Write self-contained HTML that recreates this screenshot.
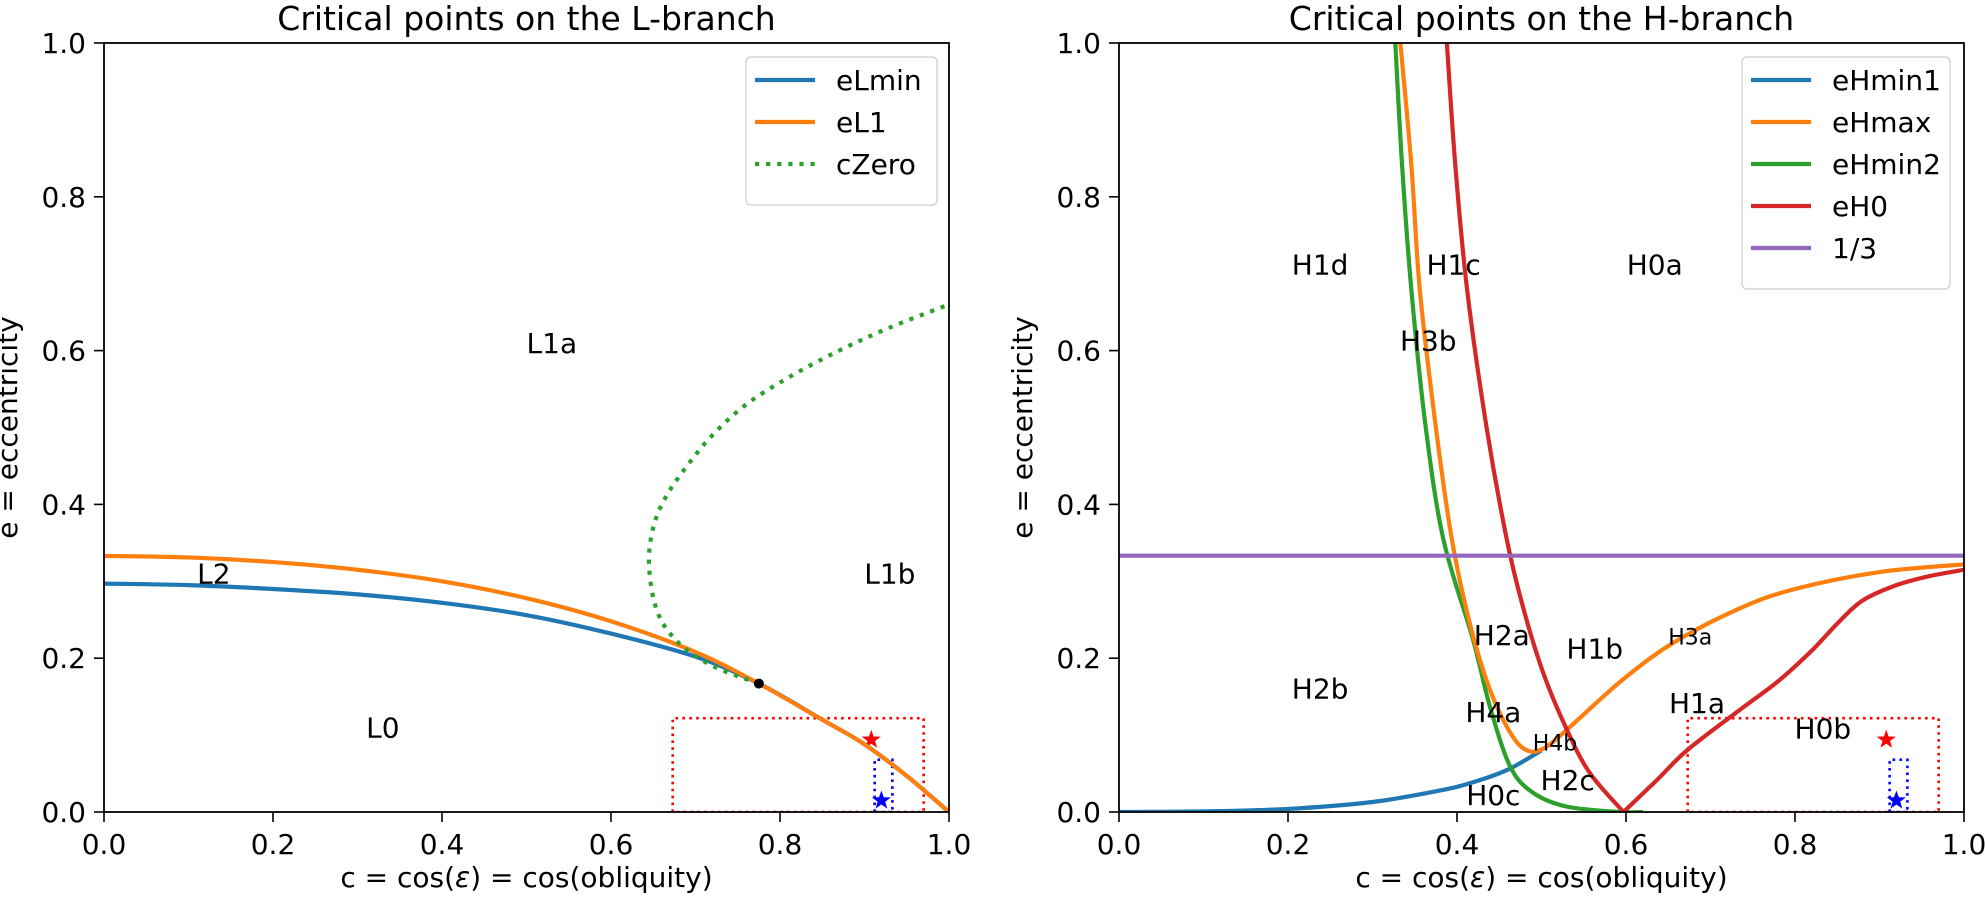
<!DOCTYPE html>
<html><head><meta charset="utf-8"><style>
html,body{margin:0;padding:0;background:#fff;}
svg{display:block;font-family:"DejaVu Sans","Liberation Sans",sans-serif;}
</style></head><body>
<svg id="chart" width="1985" height="902" viewBox="0 0 1985 902" xmlns="http://www.w3.org/2000/svg"></svg>
<script>
// ---------- data ----------
const xTicks=[0,0.2,0.4,0.6,0.8,1.0];
const yTicks=[0,0.2,0.4,0.6,0.8,1.0];
const tickLabels=["0.0","0.2","0.4","0.6","0.8","1.0"];
// Left panel
const eLminC=[0,0.1,0.2,0.3,0.4,0.5,0.6,0.7,0.775,0.85,0.9,0.95,1.0];
const eLminE=[0.297,0.295,0.290,0.283,0.272,0.256,0.232,0.202,0.167,0.12,0.088,0.047,0];
const eL1C=[0,0.1,0.2,0.3,0.4,0.5,0.6,0.7,0.775,0.85,0.9,0.95,1.0];
const eL1E=[0.333,0.331,0.325,0.315,0.300,0.278,0.248,0.208,0.167,0.12,0.088,0.047,0];
const cZeroC=[0.775,0.72,0.68,0.655,0.645,0.65,0.665,0.69,0.72,0.76,0.81,0.87,0.93,1.0];
const cZeroE=[0.167,0.19,0.22,0.26,0.32,0.37,0.41,0.45,0.49,0.53,0.565,0.6,0.63,0.66];
const dotPoint=[0.775,0.167];
// Right panel
const eHmin1C=[0,0.1,0.2,0.3,0.38,0.42,0.46,0.5];
const eHmin1E=[0,0.0008,0.004,0.013,0.028,0.039,0.055,0.080];
const eHmaxC=[0.333,0.346,0.356,0.375,0.394,0.415,0.439,0.466,0.486,0.506,0.534,0.596,0.656,0.735,0.8,0.9,1.0];
const eHmaxE=[1.0,0.841,0.679,0.5,0.354,0.246,0.159,0.098,0.079,0.085,0.111,0.172,0.220,0.265,0.29,0.312,0.322];
const eHmin2C=[0.327,0.335,0.346,0.363,0.384,0.419,0.439,0.463,0.490,0.530,0.593,0.62];
const eHmin2E=[1.0,0.841,0.679,0.5,0.354,0.224,0.137,0.059,0.025,0.007,0,0];
const eH0C=[0.388,0.398,0.412,0.435,0.459,0.478,0.502,0.530,0.557,0.597,0.637,0.673,0.735,0.78,0.82,0.85,0.88,0.92,0.96,1.0];
const eH0E=[1.0,0.841,0.679,0.5,0.354,0.267,0.181,0.107,0.051,0,0.042,0.081,0.133,0.17,0.21,0.245,0.275,0.295,0.307,0.315];
const thirdLine=0.3333;
// shared markers
const redRect=[0.673,0.970,0,0.122];
const blueRect=[0.912,0.933,0,0.068];
const redStar=[0.908,0.094];
const blueStar=[0.920,0.015];
const leftLabels=["L1a","L2","L1b","L0"];
const leftLabelC=[0.53,0.13,0.93,0.33];
const leftLabelE=[0.61,0.31,0.31,0.11];
const rightLabels=["H1d","H1c","H0a","H3b","H2a","H1b","H3a","H4a","H4b","H2c","H0c","H1a","H2b","H0b"];
const rightLabelC=[0.238,0.396,0.634,0.366,0.453,0.563,0.676,0.443,0.516,0.531,0.443,0.684,0.238,0.833];
const rightLabelE=[0.712,0.712,0.712,0.613,0.230,0.213,0.228,0.130,0.090,0.042,0.022,0.142,0.161,0.109];
const rightLabelSmall=[false,false,false,false,false,false,true,false,true,false,false,false,false,false];

// ---------- drawing ----------
const NS="http://www.w3.org/2000/svg";
const svg=document.getElementById('chart');
function mk(tag,attrs,parent){const e=document.createElementNS(NS,tag);for(const k in attrs)e.setAttribute(k,attrs[k]);(parent||svg).appendChild(e);return e;}
const T=43,B=812;
function axes(x0){
  const x1=x0+845;
  return {x:v=>x0+v*(x1-x0), y:v=>B-v*(B-T), x0:x0, x1:x1};
}
function pathD(ax,cs,es){
  const p=cs.map((c,i)=>[ax.x(c),ax.y(es[i])]);
  let d="M"+p[0][0].toFixed(2)+","+p[0][1].toFixed(2);
  for(let i=0;i<p.length-1;i++){
    const p0=p[i-1]||p[i],p1=p[i],p2=p[i+1],p3=p[i+2]||p2;
    const t=1/6;
    const c1=[p1[0]+(p2[0]-p0[0])*t,p1[1]+(p2[1]-p0[1])*t];
    const c2=[p2[0]-(p3[0]-p1[0])*t,p2[1]-(p3[1]-p1[1])*t];
    d+=" C"+c1[0].toFixed(2)+","+c1[1].toFixed(2)+" "+c2[0].toFixed(2)+","+c2[1].toFixed(2)+" "+p2[0].toFixed(2)+","+p2[1].toFixed(2);
  }
  return d;
}
function starPts(cx,cy,R){
  const r=R*0.4;let s=[];
  for(let i=0;i<10;i++){const a=-Math.PI/2+i*Math.PI/5;const rr=i%2?r:R;s.push((cx+rr*Math.cos(a)).toFixed(1)+","+(cy+rr*Math.sin(a)).toFixed(1));}
  return s.join(" ");
}
function frame(ax,g,title,ylabelX){
  xTicks.forEach((v,i)=>{
    const x=ax.x(v);
    const t=mk('line',{x1:x,y1:B,x2:x,y2:B+10,stroke:'#000','stroke-width':1.6},g);
    
    const l=mk('text',{x:x,y:854,'font-size':28,'text-anchor':'middle',fill:'#000'},g);
    l.textContent=tickLabels[i];
    
  });
  yTicks.forEach((v,i)=>{
    const y=ax.y(v);
    const t=mk('line',{x1:ax.x0-10,y1:y,x2:ax.x0,y2:y,stroke:'#000','stroke-width':1.6},g);
    
    const l=mk('text',{x:ax.x0-18,y:y+10,'font-size':28,'text-anchor':'end',fill:'#000'},g);
    l.textContent=tickLabels[i];
    
  });
  const tt=mk('text',{x:(ax.x0+ax.x1)/2,y:30,'font-size':33,'text-anchor':'middle',fill:'#000'},g);
  tt.textContent=title;
  
  const xl=mk('text',{x:(ax.x0+ax.x1)/2,y:887,'font-size':28,'text-anchor':'middle',fill:'#000'},g);
  xl.innerHTML='c = cos(<tspan font-style="italic">ε</tspan>) = cos(obliquity)';
  
  const yl=mk('text',{x:0,y:0,'font-size':28,'text-anchor':'middle',fill:'#000',transform:`translate(${ylabelX},${(T+B)/2}) rotate(-90)`},g);
  yl.textContent='e = eccentricity';
  
}
function spines(ax,g){
  const r=mk('rect',{x:ax.x0,y:T,width:845,height:B-T,fill:'none',stroke:'#000','stroke-width':1.8},g);
  
}
function series(ax,g,cs,es,color,name,dash,split){
  let d;
  if(split){
    let k=0;es.forEach((v,i)=>{if(v<es[k])k=i;});
    d=pathD(ax,cs.slice(0,k+1),es.slice(0,k+1))+" "+pathD(ax,cs.slice(k),es.slice(k));
  } else d=pathD(ax,cs,es);
  const a={d:d,fill:'none',stroke:color,'stroke-width':4.2,'stroke-linejoin':'round'};
  if(dash){a['stroke-dasharray']=dash;}
  const p=mk('path',a,g);
  
}
function markers(ax,g){
  const rr=mk('path',{d:`M${ax.x(redRect[0])},${ax.y(redRect[2])} L${ax.x(redRect[0])},${ax.y(redRect[3])} L${ax.x(redRect[1])},${ax.y(redRect[3])} L${ax.x(redRect[1])},${ax.y(redRect[2])} Z`,fill:'none',stroke:'#ff0000','stroke-width':2.6,'stroke-dasharray':'2.6 4.3'},g);
  
  const br=mk('path',{d:`M${ax.x(blueRect[0])},${ax.y(blueRect[2])} L${ax.x(blueRect[0])},${ax.y(blueRect[3])} L${ax.x(blueRect[1])},${ax.y(blueRect[3])} L${ax.x(blueRect[1])},${ax.y(blueRect[2])} Z`,fill:'none',stroke:'#0000ff','stroke-width':2.6,'stroke-dasharray':'2.6 4.3'},g);
  
  const rs=mk('polygon',{points:starPts(ax.x(redStar[0]),ax.y(redStar[1]),10),fill:'#ff0000'},g);
  
  const bs=mk('polygon',{points:starPts(ax.x(blueStar[0]),ax.y(blueStar[1]),10),fill:'#0000ff'},g);
  
}
function labels(ax,g,names,cs,es,small){
  names.forEach((n,i)=>{
    const fs=(small&&small[i])?22:28;
    const t=mk('text',{x:ax.x(cs[i]),y:ax.y(es[i])+fs*0.36,'font-size':fs,'text-anchor':'middle',fill:'#000'},g);
    t.textContent=n;
    
  });
}
function legend(g,x,y,w,entries){
  const h=entries.length*42+22;
  const r=mk('rect',{x:x,y:y,width:w,height:h,rx:5,fill:'#fff','fill-opacity':0.8,stroke:'#d5d5d5','stroke-width':1.5},g);
  
  entries.forEach((e,i)=>{
    const cy=y+23+i*42;
    const a={x1:x+9,y1:cy,x2:x+69,y2:cy,stroke:e[1],'stroke-width':4.2};
    if(e[2])a['stroke-dasharray']=e[2];
    const l=mk('line',a,g);
    
    const t=mk('text',{x:x+90,y:cy+10,'font-size':28,fill:'#000'},g);
    t.textContent=e[0];
    
  });
}
// Left panel
const axL=axes(104);
const gL=mk('g',{});
const clipL=mk('clipPath',{id:'clipL'});mk('rect',{x:104,y:T,width:845,height:B-T},clipL);
const gLp=mk('g',{'clip-path':'url(#clipL)'},gL);
markers(axL,gLp);
series(axL,gLp,eLminC,eLminE,'#1f77b4','eLmin-line');
series(axL,gLp,eL1C,eL1E,'#ff7f0e','eL1-line');
series(axL,gLp,cZeroC,cZeroE,'#2ca02c','cZero-line','4.2 6.9');
const dot=mk('circle',{cx:axL.x(dotPoint[0]),cy:axL.y(dotPoint[1]),r:5,fill:'#000'},gLp);

labels(axL,gLp,leftLabels,leftLabelC,leftLabelE);
spines(axL,gL);
frame(axL,gL,'Critical points on the L-branch',17);
legend(gL,746,57,191,[['eLmin','#1f77b4'],['eL1','#ff7f0e'],['cZero','#2ca02c','4.2 6.9']]);
// Right panel
const axR=axes(1119);
const gR=mk('g',{});
const clipR=mk('clipPath',{id:'clipR'});mk('rect',{x:1119,y:T,width:845,height:B-T},clipR);
const gRp=mk('g',{'clip-path':'url(#clipR)'},gR);
markers(axR,gRp);
series(axR,gRp,eHmin1C,eHmin1E,'#1f77b4','eHmin1-line');
series(axR,gRp,eHmin2C,eHmin2E,'#2ca02c','eHmin2-line');
series(axR,gRp,eHmaxC,eHmaxE,'#ff7f0e','eHmax-line');
series(axR,gRp,eH0C,eH0E,'#d62728','eH0-line',null,true);
const third=mk('line',{x1:axR.x(0),y1:axR.y(thirdLine),x2:axR.x(1),y2:axR.y(thirdLine),stroke:'#9467bd','stroke-width':4.2},gRp);

labels(axR,gRp,rightLabels,rightLabelC,rightLabelE,rightLabelSmall);
spines(axR,gR);
frame(axR,gR,'Critical points on the H-branch',1032);
legend(gR,1742,57,208,[['eHmin1','#1f77b4'],['eHmax','#ff7f0e'],['eHmin2','#2ca02c'],['eH0','#d62728'],['1/3','#9467bd']]);
</script>
</body></html>
